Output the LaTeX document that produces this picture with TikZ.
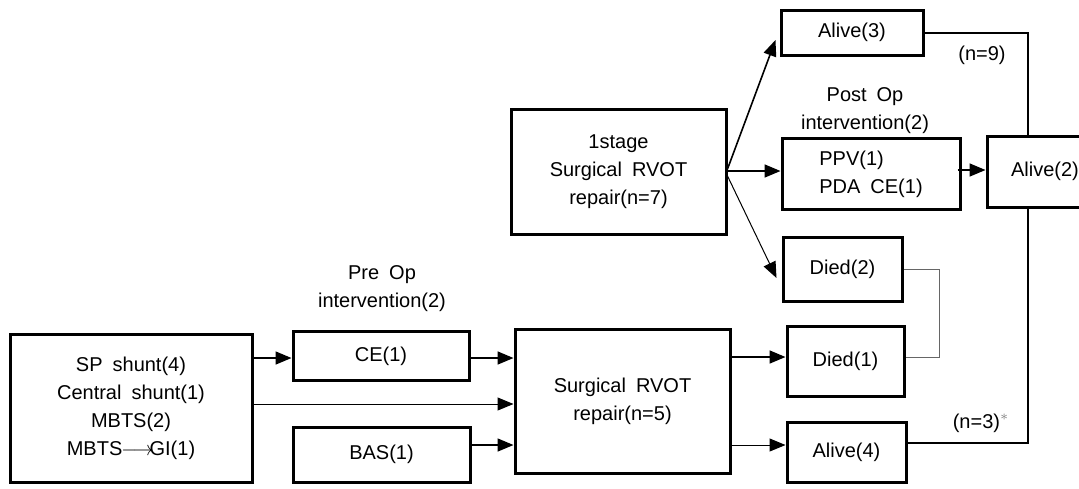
\documentclass[tikz,border=0pt]{standalone}
\usepackage{fontspec}
\setmainfont{Liberation Sans}
\usetikzlibrary{arrows.meta,backgrounds}
\newcommand{\wsp}{\hspace{0.5em}}
\begin{document}
\begin{tikzpicture}[x=0.5pt,y=-0.5pt,
  font=\fontsize{10pt}{14pt}\selectfont,
  box/.style={draw, line width=1.5pt, fill=white, inner sep=0pt, align=center},
  arr/.style={line width=0.8pt, -{Triangle[length=8pt,width=6.5pt]}},
  thinarr/.style={line width=0.5pt, -{Triangle[length=8pt,width=6.5pt]}},
  lbl/.style={align=center, inner sep=0pt}]
\useasboundingbox (0,0) rectangle (1079,488);
% nodes
\node[box, minimum width=121pt, minimum height=74pt] (src) at (131,408)
  {SP\wsp shunt(4)\\Central\wsp shunt(1)\\MBTS(2)\\MBTS\kern-0.5pt$\longrightarrow$\kern-2pt GI(1)};
\node[box, minimum width=88pt, minimum height=24.5pt] (ce) at (381,356) {CE(1)};
\node[box, minimum width=88.5pt, minimum height=27.5pt] (bas) at (381.5,454.5) {BAS(1)};
\node[box, minimum width=107.5pt, minimum height=72pt] (s5) at (622.5,401) {Surgical\wsp RVOT\\repair(n=5)};
\node[box, minimum width=107.5pt, minimum height=62.5pt] (s7) at (618.5,171.5) {1stage\\Surgical\wsp RVOT\\repair(n=7)};
\node[box, minimum width=71pt, minimum height=22.5pt] (a3) at (852,32.5) {Alive(3)};
\node[box, minimum width=89pt, minimum height=35.5pt] (ppv) at (871,173.5)
  {\begin{tabular}{@{}l@{}}PPV(1)\\PDA\wsp CE(1)\end{tabular}};
\node[box, minimum width=58pt, minimum height=35.5pt, text width=46pt] (a2) at (1045,171.5) {Alive(2)};
\node[box, minimum width=59.5pt, minimum height=32pt] (d2) at (842.5,269) {Died(2)};
\node[box, minimum width=58.5pt, minimum height=35pt] (d1) at (845.5,361) {Died(1)};
\node[box, minimum width=59.5pt, minimum height=30pt] (a4) at (846.5,452) {Alive(4)};
% labels
\node[lbl] (pre) at (382,289) {Pre\wsp Op\\intervention(2)};
\node[lbl] (post) at (865,111) {Post\wsp Op\\intervention(2)};
\node[lbl] (n9) at (982,55) {(n=9)};
\node[lbl] (n3) at (981,423) {(n=3)$^{\textcolor{gray}{*}}$};
\coordinate (rt) at (1028,33);
\coordinate (rb) at (1028,443);
\coordinate (bt) at (939,269);
\coordinate (bb) at (939,357);
% connectors
\draw[arr] (src.east |- 0,358) -- (ce.west |- 0,358);
\draw[thinarr] (src.east |- 0,404) -- (s5.west |- 0,404);
\draw[arr] (ce.east |- 0,358) -- (s5.west |- 0,358);
\draw[arr] (bas.east |- 0,445) -- (s5.west |- 0,445);
\draw[arr] (s5.east |- 0,357) -- (d1.west |- 0,357);
\draw[thinarr] (s5.east |- 0,445) -- (a4.west |- 0,445);
\draw[arr] (s7.east |- 0,169) -- ([xshift=-2pt]a3.west |- 0,40);
\draw[arr] (s7.east |- 0,171) -- (ppv.west |- 0,171);
\draw[thinarr] (s7.east |- 0,176) -- ([xshift=-2.5pt]d2.west |- 0,278);
\draw[arr] ([xshift=-2pt]ppv.east |- 0,170) -- (a2.west |- 0,170);
\draw[gray!80!black, line width=0.5pt] (d2.east) -- (bt) -- (bb) -- (d1.east |- bb);
\begin{scope}[on background layer]
\draw[line width=0.6pt] (a3.east |- rt) -- (rt) -- (rb) -- (a4.east |- rb);
\end{scope}
\end{tikzpicture}
\end{document}
